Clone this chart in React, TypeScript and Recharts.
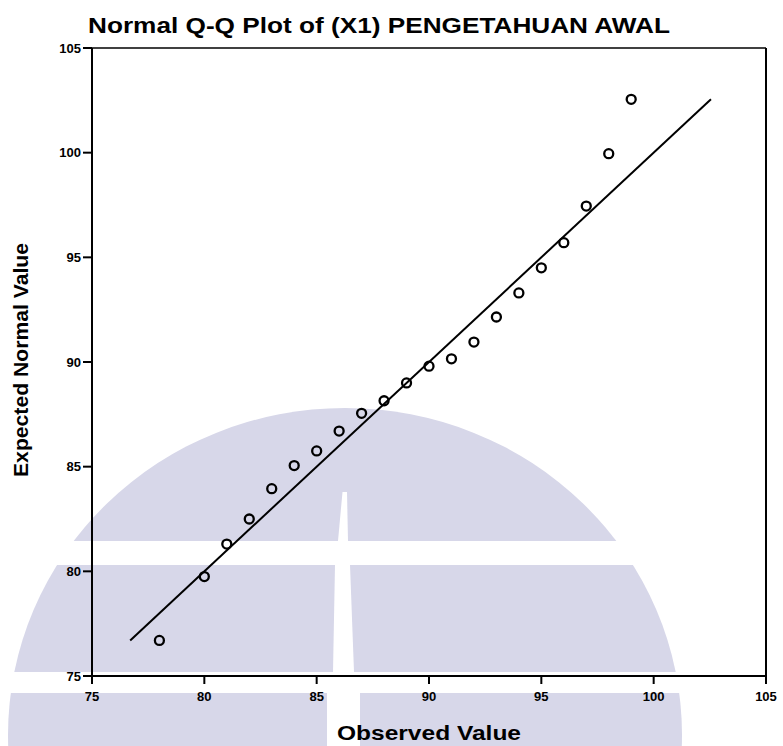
import React from 'react';
import { ScatterChart, Scatter, XAxis, YAxis, ReferenceLine, Label } from 'recharts';

// Normal Q-Q data: observed scores and their expected normal quantiles
const observedValues = [78, 80, 81, 82, 83, 84, 85, 86, 87, 88, 89, 90, 91, 92, 93, 94, 95, 96, 97, 98, 99];
const expectedNormalValues = [
  76.7, 79.75, 81.3, 82.5, 83.95, 85.05, 85.75, 86.7, 87.55, 88.15, 89.0,
  89.8, 90.15, 90.95, 92.15, 93.3, 94.5, 95.7, 97.45, 99.95, 102.55,
];
const axisTicks = [75, 80, 85, 90, 95, 100, 105];
const axisMin = 75;
const axisMax = 105;

const chartTitle = 'Normal Q-Q Plot of (X1) PENGETAHUAN AWAL';
const xAxisTitle = 'Observed Value';
const yAxisTitle = 'Expected Normal Value';

const points = observedValues.map((x, i) => ({ x, y: expectedNormalValues[i] }));
// Reference line y = x, spanning the range of expected values
const lineFrom = Math.min(...expectedNormalValues);
const lineTo = Math.max(...expectedNormalValues);

const WIDTH = 783;
const HEIGHT = 746;
const FONT = '"Liberation Sans", Arial, Helvetica, sans-serif';
const WATERMARK = 'rgb(215,215,233)';

const axisStroke = { stroke: '#000', strokeWidth: 2 };
const tickStyle = { fill: '#000', fontSize: 13, fontFamily: FONT, fontWeight: 'bold' as const };

const Ring = (props: any) => {
  const { cx, cy } = props;
  if (cx == null || cy == null) return <g />;
  return <circle cx={cx} cy={cy} r={4.5} fill="none" stroke="#000" strokeWidth={2.3} />;
};

const Backdrop = () => (
  <svg width={WIDTH} height={HEIGHT} style={{ position: 'absolute', left: 0, top: 0 }}>
    <rect x={0} y={0} width={WIDTH} height={HEIGHT} fill="#fff" />
    {/* faint dome emblem behind the plot */}
    <ellipse cx={345} cy={735} rx={337} ry={327} fill={WATERMARK} />
    <rect x={0} y={541} width={WIDTH} height={24} fill="#fff" />
    <rect x={0} y={672} width={WIDTH} height={21} fill="#fff" />
    <polygon points="342.5,492 347,492 348,541 338,541" fill="#fff" />
    <polygon points="335,565 350,565 354,672 333,672" fill="#fff" />
    <rect x={327} y={693} width={33} height={60} fill="#fff" />
    <text
      x={379}
      y={33}
      textAnchor="middle"
      fontFamily={FONT}
      fontSize={22}
      fontWeight="bold"
      fill="#000"
      textLength={582}
      lengthAdjust="spacingAndGlyphs"
    >
      {chartTitle}
    </text>
  </svg>
);

export default function App() {
  return (
    <div style={{ position: 'absolute', left: 0, top: 0, width: WIDTH, height: HEIGHT }}>
      <Backdrop />
      <div style={{ position: 'absolute', left: 0, top: 0 }}>
        <ScatterChart
          width={WIDTH}
          height={HEIGHT}
          margin={{ top: 48, right: 17, bottom: 30, left: 32 }}
        >
          <XAxis
            type="number"
            dataKey="x"
            domain={[axisMin, axisMax]}
            ticks={axisTicks}
            interval={0}
            height={40}
            axisLine={axisStroke}
            tickLine={axisStroke}
            tickSize={8}
            tickMargin={8}
            tick={tickStyle}
          >
            <Label
              content={(p: any) => {
                const vb = p.viewBox || { x: 92, y: 676, width: 674 };
                return (
                  <text
                    x={vb.x + vb.width / 2}
                    y={vb.y + 64}
                    textAnchor="middle"
                    fontFamily={FONT}
                    fontSize={20}
                    fontWeight="bold"
                    fill="#000"
                    textLength={184}
                    lengthAdjust="spacingAndGlyphs"
                  >
                    {xAxisTitle}
                  </text>
                );
              }}
            />
          </XAxis>
          <YAxis
            type="number"
            dataKey="y"
            domain={[axisMin, axisMax]}
            ticks={axisTicks}
            interval={0}
            width={60}
            axisLine={axisStroke}
            tickLine={axisStroke}
            tickSize={9}
            tickMargin={2}
            tick={tickStyle}
          >
            <Label
              content={(p: any) => {
                const vb = p.viewBox || { x: 32, y: 48, height: 628 };
                const cx = vb.x - 4;
                const cy = vb.y + vb.height / 2 - 2;
                return (
                  <text
                    x={cx}
                    y={cy}
                    transform={`rotate(-90, ${cx}, ${cy})`}
                    textAnchor="middle"
                    fontFamily={FONT}
                    fontSize={20}
                    fontWeight="bold"
                    fill="#000"
                    textLength={234}
                    lengthAdjust="spacingAndGlyphs"
                  >
                    {yAxisTitle}
                  </text>
                );
              }}
            />
          </YAxis>
          {/* frame: top and right borders */}
          <ReferenceLine y={axisMax} stroke="#000" strokeWidth={1.5} />
          <ReferenceLine x={axisMax} stroke="#000" strokeWidth={2} />
          <ReferenceLine
            segment={[
              { x: lineFrom, y: lineFrom },
              { x: lineTo, y: lineTo },
            ]}
            stroke="#000"
            strokeWidth={2}
          />
          <Scatter data={points} shape={Ring} isAnimationActive={false} />
        </ScatterChart>
      </div>
    </div>
  );
}
